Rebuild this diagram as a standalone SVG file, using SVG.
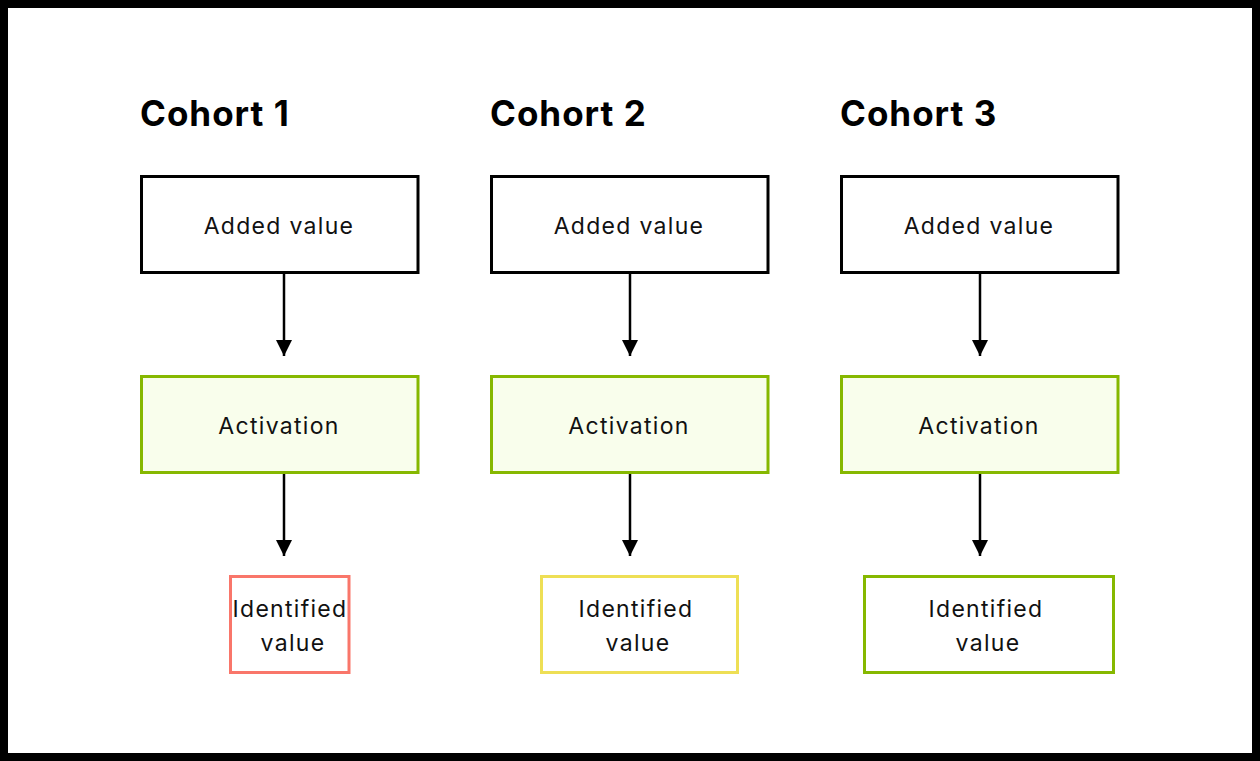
<svg xmlns="http://www.w3.org/2000/svg" width="1260" height="761" viewBox="0 0 1260 761">
<style>
.h{font-family:Inter,"Noto Sans",sans-serif;font-weight:700;font-size:35px;letter-spacing:1px;fill:#000}
.t{font-family:Inter,"Noto Sans",sans-serif;font-size:23px;letter-spacing:1.3px;fill:#111;text-anchor:middle}
.w{fill:#fff;stroke:#000;stroke-width:3}
.g{fill:#f9feec;stroke:#86b800;stroke-width:3}
.r{fill:#fff;stroke:#f9766a;stroke-width:3}
.y{fill:#fff;stroke:#eedf55;stroke-width:3}
.gg{fill:#fff;stroke:#86b800;stroke-width:3}
.c{stroke:#000;stroke-width:2.5;fill:none;marker-end:url(#a)}
</style>
<defs>
<marker id="a" markerUnits="userSpaceOnUse" markerWidth="18" markerHeight="16" refX="16" refY="8" orient="auto">
<path d="M0,0 L16,8 L0,16 Z" fill="#000"/>
</marker>
</defs>
<rect x="0" y="0" width="1260" height="761" fill="#000"/>
<rect x="8" y="8" width="1244" height="745" fill="#fff"/>
<g id="title1"><text class="h" x="140" y="126">Cohort 1</text></g>
<g id="title2"><text class="h" x="490" y="126">Cohort 2</text></g>
<g id="title3"><text class="h" x="840" y="126">Cohort 3</text></g>
<g id="added1"><rect class="w" x="141.5" y="176.5" width="276.5" height="96"/><text class="t" x="279" y="234">Added value</text></g>
<g id="added2"><rect class="w" x="491.5" y="176.5" width="276.5" height="96"/><text class="t" x="629" y="234">Added value</text></g>
<g id="added3"><rect class="w" x="841.5" y="176.5" width="276.5" height="96"/><text class="t" x="979" y="234">Added value</text></g>
<g id="act1"><rect class="g" x="141.5" y="376.5" width="276.5" height="96"/><text class="t" x="279" y="434">Activation</text></g>
<g id="act2"><rect class="g" x="491.5" y="376.5" width="276.5" height="96"/><text class="t" x="629" y="434">Activation</text></g>
<g id="act3"><rect class="g" x="841.5" y="376.5" width="276.5" height="96"/><text class="t" x="979" y="434">Activation</text></g>
<g id="id1"><rect class="r" x="230.5" y="576.5" width="118.5" height="96"/><text class="t" x="290" y="617">Identified</text><text class="t" x="293" y="651">value</text></g>
<g id="id2"><rect class="y" x="541.5" y="576.5" width="196" height="96"/><text class="t" x="636" y="617">Identified</text><text class="t" x="638" y="651">value</text></g>
<g id="id3"><rect class="gg" x="864.5" y="576.5" width="249" height="96"/><text class="t" x="986" y="617">Identified</text><text class="t" x="988" y="651">value</text></g>
<g id="connectors">
<line class="c" x1="284" y1="274" x2="284" y2="356"/>
<line class="c" x1="284" y1="474" x2="284" y2="556"/>
<line class="c" x1="630" y1="274" x2="630" y2="356"/>
<line class="c" x1="630" y1="474" x2="630" y2="556"/>
<line class="c" x1="980" y1="274" x2="980" y2="356"/>
<line class="c" x1="980" y1="474" x2="980" y2="556"/>
</g>
</svg>
